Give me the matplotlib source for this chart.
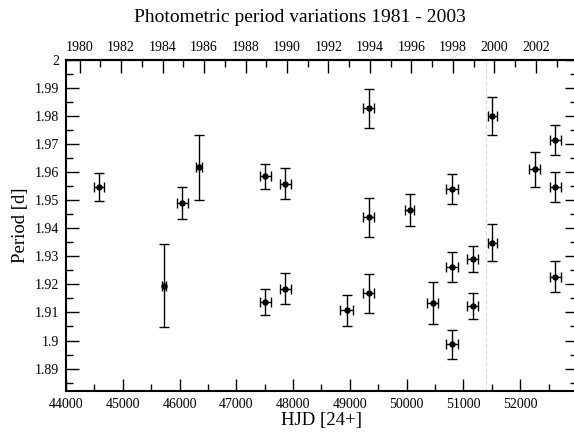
import numpy as np
import matplotlib
matplotlib.use("Agg")
import matplotlib.pyplot as plt
from matplotlib.ticker import MultipleLocator, FuncFormatter

plt.rcParams['font.family'] = ['Liberation Serif', 'DejaVu Serif']

# period measurements (HJD - 2400000, period in days)
hjd = [44580, 45730, 46046, 46345, 47513, 47513, 47865, 47865, 48944,
       49333, 49333, 49333, 50052, 50457, 50800, 50800, 50800, 51166,
       51166, 51510, 51510, 52257, 52617, 52617, 52617]
period = [1.9548, 1.9196, 1.9490, 1.9617, 1.9585, 1.9138, 1.9559, 1.9185,
          1.9108, 1.9828, 1.9439, 1.9168, 1.9464, 1.9134, 1.9541, 1.9261,
          1.8986, 1.9291, 1.9122, 1.9800, 1.9349, 1.9610, 1.9715, 1.9546,
          1.9228]
hjd_err = [90, 35, 95, 50, 95, 95, 100, 100, 115,
           100, 100, 100, 75, 95, 100, 100, 100, 95,
           95, 80, 80, 95, 100, 100, 100]
period_err = [0.0050, 0.0147, 0.0057, 0.0115, 0.0045, 0.0046, 0.0055, 0.0055,
              0.0055, 0.0070, 0.0070, 0.0070, 0.0057, 0.0075, 0.0053, 0.0053,
              0.0053, 0.0047, 0.0047, 0.0067, 0.0067, 0.0062, 0.0055, 0.0054,
              0.0055]

marker_hjd = 51400  # dashed reference line

fig = plt.figure(figsize=(5.74, 4.32), dpi=100)
ax = fig.add_axes([66 / 574, 1 - 391 / 432, 511 / 574, 331 / 432])

ax.errorbar(hjd, period, xerr=hjd_err, yerr=period_err, fmt='o', color='black',
            ms=3.6, elinewidth=1.0, capsize=3.5, capthick=1.0)
ax.axvline(marker_hjd, color='#d8d8d8', lw=0.9, ls=(0, (3, 2)), zorder=0)

ax.set_xlim(44000, 53000)
ax.set_ylim(1.882, 2.0)

ax.xaxis.set_major_locator(MultipleLocator(1000))
ax.xaxis.set_minor_locator(MultipleLocator(500))
ax.xaxis.set_major_formatter(FuncFormatter(lambda v, p: '%d' % v if v < 52500 else ''))
ax.yaxis.set_major_locator(MultipleLocator(0.01))
ax.yaxis.set_minor_locator(MultipleLocator(0.005))
ax.yaxis.set_major_formatter(FuncFormatter(lambda v, p: '%g' % round(v, 3)))

ax.tick_params(which='both', direction='in', right=True, top=False,
               labelsize=10, width=1.0)
ax.tick_params(which='major', length=9, pad=5)
ax.tick_params(which='minor', length=5)
for s in ax.spines.values():
    s.set_linewidth(1.5)


def jd2year(x):
    return 1980 + (np.asarray(x) - 44239.5) / 365.25


def year2jd(y):
    return 44239.5 + (np.asarray(y) - 1980) * 365.25


top = ax.secondary_xaxis('top', functions=(jd2year, year2jd))
top.xaxis.set_major_locator(MultipleLocator(2))
top.xaxis.set_minor_locator(MultipleLocator(1))
top.xaxis.set_major_formatter(FuncFormatter(lambda v, p: '%d' % round(v) if v < 2003.5 else ''))
top.tick_params(which='both', direction='in', labelsize=10, width=1.0)
top.tick_params(which='major', length=9, pad=4)
top.tick_params(which='minor', length=5)
top.spines['top'].set_linewidth(1.5)

ax.set_xlabel('HJD [24+]', fontsize=13.5, labelpad=1)
ax.set_ylabel('Period [d]', fontsize=13.5, labelpad=4)
fig.text(300 / 574, 1 - 18 / 432, 'Photometric period variations 1981 - 2003',
         ha='center', va='center', fontsize=14)

fig.savefig('out.png', dpi=100)
